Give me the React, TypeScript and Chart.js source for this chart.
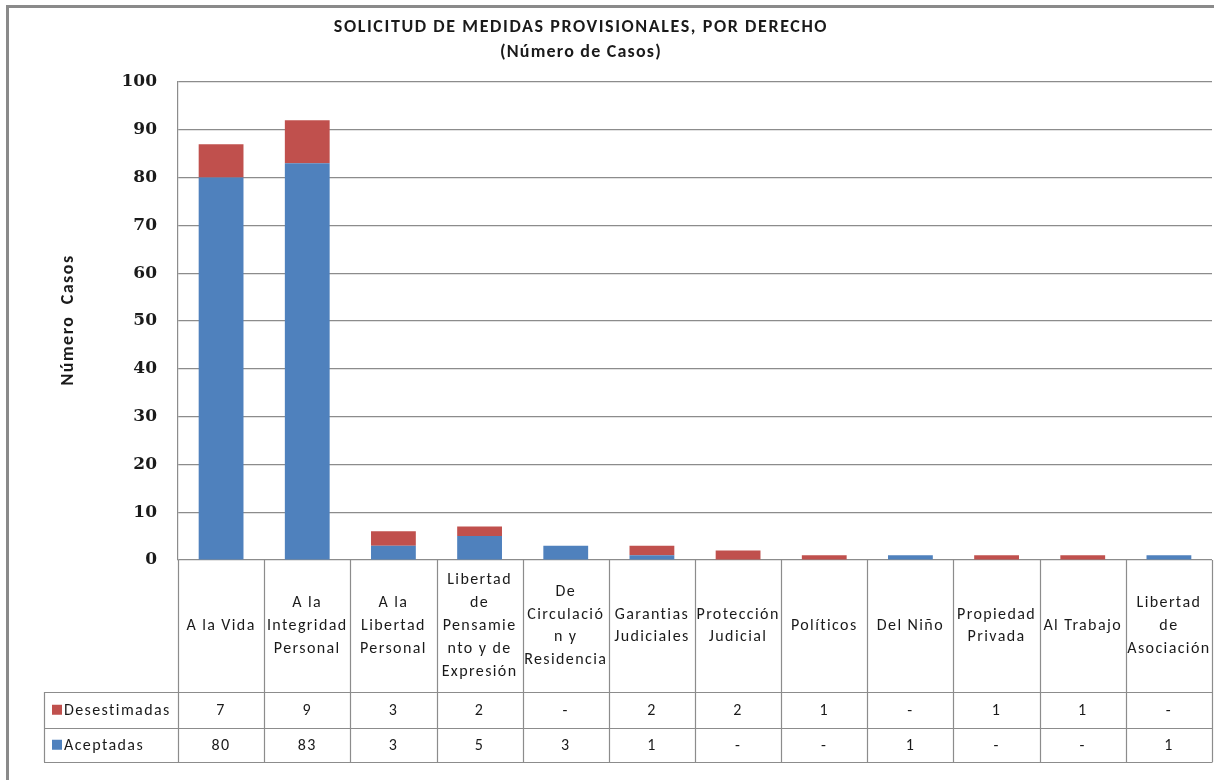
import React, { useEffect, useRef } from "react";
import { Chart, registerables } from "chart.js";

Chart.register(...registerables);

const TITLE_LINE_1 = "SOLICITUD DE MEDIDAS PROVISIONALES, POR DERECHO";
const TITLE_LINE_2 = "(Número de Casos)";
const Y_AXIS_TITLE = "Número  Casos";

const categories: string[][] = [
  ["A la Vida"],
  ["A la", "Integridad", "Personal"],
  ["A la", "Libertad", "Personal"],
  ["Libertad", "de", "Pensamie", "nto y de", "Expresión"],
  ["De", "Circulació", "n y", "Residencia"],
  ["Garantias", "Judiciales"],
  ["Protección", "Judicial"],
  ["Políticos"],
  ["Del Niño"],
  ["Propiedad", "Privada"],
  ["Al Trabajo"],
  ["Libertad", "de", "Asociación"],
];

const desestimadas: number[] = [7, 9, 3, 2, 0, 2, 2, 1, 0, 1, 1, 0];
const aceptadas: number[] = [80, 83, 3, 5, 3, 1, 0, 0, 1, 0, 0, 1];

const yTicks: number[] = [0, 10, 20, 30, 40, 50, 60, 70, 80, 90, 100];

const BLUE = "#4F81BD";
const RED = "#C0504D";
const GRID = "#8c8c8c";
const TEXT = "#1a1a1a";
const CAL = "Carlito, Calibri, 'Noto Sans', sans-serif";
const TABLE_FONT = `16px ${CAL}`;

const fmt = (v: number) => (v === 0 ? "-" : String(v));

const decorPlugin = {
  id: "decor",
  afterDraw(chart: any) {
    const ctx = chart.ctx as CanvasRenderingContext2D;
    const area = chart.chartArea;
    const xs = chart.scales.x;
    ctx.save();

    // outer frame (left and top)
    ctx.strokeStyle = "#8a8a8a";
    ctx.lineWidth = 3;
    ctx.beginPath();
    ctx.moveTo(7.5, 780);
    ctx.lineTo(7.5, 6.5);
    ctx.lineTo(1214, 6.5);
    ctx.stroke();

    const c: any = ctx;

    // titles
    ctx.fillStyle = TEXT;
    ctx.textAlign = "center";
    ctx.textBaseline = "middle";
    ctx.font = `bold 18px ${CAL}`;
    c.letterSpacing = "1.6px";
    ctx.fillText(TITLE_LINE_1, 581, 27);
    c.letterSpacing = "1.2px";
    ctx.fillText(TITLE_LINE_2, 581, 52);

    // y axis title
    ctx.save();
    ctx.translate(68, 320);
    ctx.rotate(-Math.PI / 2);
    ctx.font = `bold 18px ${CAL}`;
    c.letterSpacing = "1.5px";
    ctx.fillText(Y_AXIS_TITLE, 0, 0);
    ctx.restore();

    // data table
    const n = categories.length;
    const step = xs.getPixelForValue(1) - xs.getPixelForValue(0);
    const edges: number[] = [];
    for (let i = 0; i < n; i++) edges.push(xs.getPixelForValue(i) - step / 2);
    edges.push(xs.getPixelForValue(n - 1) + step / 2);

    const y0 = area.bottom;
    const yRow1 = 692;
    const yRow2 = 727.5;
    const yRow3 = 762;
    const legendLeft = 44;

    ctx.strokeStyle = GRID;
    ctx.lineWidth = 1.2;
    ctx.beginPath();
    for (const e of edges) {
      const xx = Math.round(e) + 0.5;
      ctx.moveTo(xx, y0);
      ctx.lineTo(xx, yRow3);
    }
    ctx.moveTo(legendLeft + 0.5, yRow1);
    ctx.lineTo(legendLeft + 0.5, yRow3);
    for (const yy of [yRow1, yRow2, yRow3]) {
      ctx.moveTo(legendLeft, Math.round(yy) + 0.5);
      ctx.lineTo(edges[n] + 0.5, Math.round(yy) + 0.5);
    }
    ctx.stroke();

    ctx.fillStyle = TEXT;
    ctx.font = TABLE_FONT;
    c.letterSpacing = "1.4px";
    ctx.textAlign = "center";
    ctx.textBaseline = "middle";
    const lh = 22.8;
    const headerMid = (y0 + yRow1) / 2;
    for (let i = 0; i < n; i++) {
      const cx = xs.getPixelForValue(i);
      const lines = categories[i];
      const startY = headerMid - ((lines.length - 1) * lh) / 2;
      lines.forEach((ln, k) => ctx.fillText(ln, cx, startY + k * lh));
      ctx.fillText(fmt(desestimadas[i]), cx, (yRow1 + yRow2) / 2 + 1);
      ctx.fillText(fmt(aceptadas[i]), cx, (yRow2 + yRow3) / 2 + 1);
    }

    // legend keys
    const rows = [
      { label: chart.data.datasets[1].label, color: RED, y: (yRow1 + yRow2) / 2 },
      { label: chart.data.datasets[0].label, color: BLUE, y: (yRow2 + yRow3) / 2 },
    ];
    ctx.textAlign = "left";
    for (const r of rows) {
      ctx.fillStyle = r.color;
      ctx.fillRect(52, r.y - 5, 10, 10);
      ctx.fillStyle = TEXT;
      ctx.fillText(r.label, 64, r.y + 1);
    }

    ctx.restore();
  },
};

export default function App() {
  const ref = useRef<HTMLCanvasElement | null>(null);

  useEffect(() => {
    document.body.style.margin = "0";
    const canvas = ref.current;
    if (!canvas) return;
    const chart = new Chart(canvas, {
      type: "bar",
      data: {
        labels: categories.map((c) => c.join(" ")),
        datasets: [
          {
            label: "Aceptadas",
            data: aceptadas,
            backgroundColor: BLUE,
            categoryPercentage: 1,
            barPercentage: 0.52,
          },
          {
            label: "Desestimadas",
            data: desestimadas,
            backgroundColor: RED,
            categoryPercentage: 1,
            barPercentage: 0.52,
          },
        ],
      },
      options: {
        responsive: false,
        animation: false,
        maintainAspectRatio: false,
        layout: { padding: { left: 0, right: 2, top: 82, bottom: 220 } },
        plugins: {
          legend: { display: false },
          title: { display: false },
          tooltip: { enabled: false },
        },
        scales: {
          x: {
            stacked: true,
            ticks: { display: false },
            grid: { display: false, drawTicks: false },
            border: { display: false },
            afterFit: (s: any) => {
              s.height = 0;
            },
          },
          y: {
            stacked: true,
            min: 0,
            max: 100,
            afterBuildTicks: (s: any) => {
              s.ticks = yTicks.map((v) => ({ value: v }));
            },
            afterFit: (s: any) => {
              s.width = 178;
            },
            ticks: {
              padding: 21,
              color: TEXT,
              font: { family: "'DejaVu Serif', serif", weight: "bold", size: 17 },
            },
            grid: { color: GRID, lineWidth: 1.2, drawTicks: false },
            border: { display: true, color: GRID, width: 1.2 },
          },
        },
      },
      plugins: [decorPlugin],
    } as any);
    return () => chart.destroy();
  }, []);

  return <canvas ref={ref} width={1214} height={780} style={{ display: "block" }} />;
}
